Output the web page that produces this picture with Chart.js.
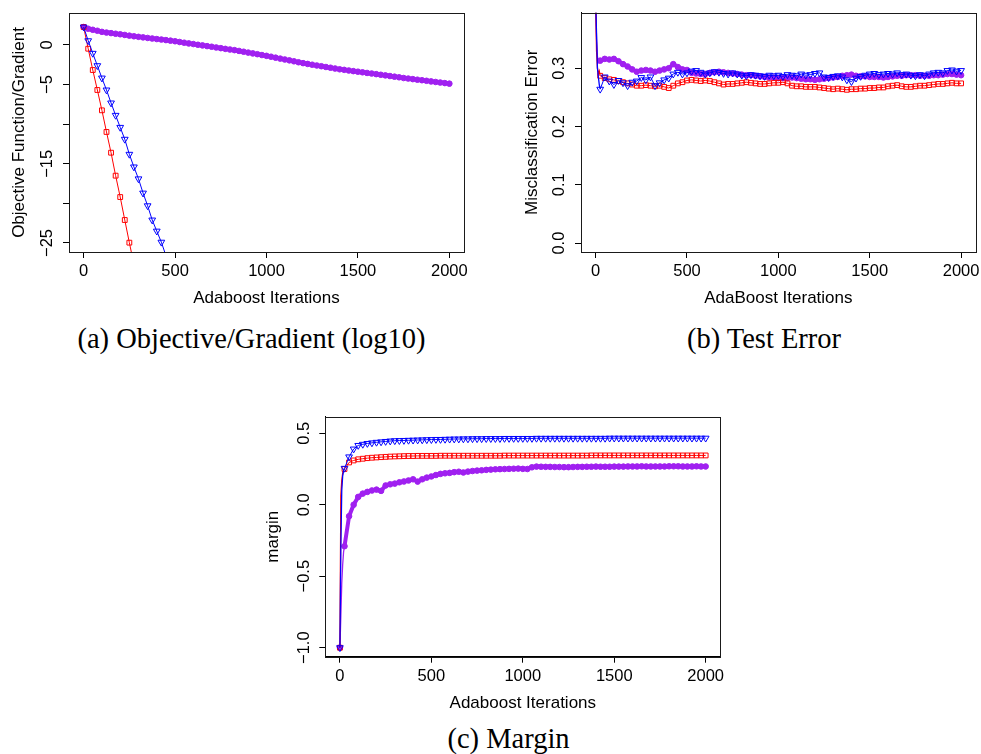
<!DOCTYPE html>
<html><head><meta charset="utf-8">
<script src="https://cdn.jsdelivr.net/npm/chart.js@4.4.1/dist/chart.umd.min.js"></script>
<style>
html,body{margin:0;padding:0;background:#fff;}
#wrap{position:relative;width:981px;height:754px;overflow:hidden;background:#fff;}
canvas{position:absolute;}
.cap{position:absolute;font-family:"Liberation Serif","Times New Roman",serif;font-size:28.5px;line-height:28.5px;white-space:nowrap;transform:translateX(-50%);color:#000;}
</style></head><body>
<div id="wrap">
<canvas id="ca" width="490" height="320" style="left:0;top:0;width:490px;height:320px"></canvas>
<canvas id="cb" width="491" height="320" style="left:490px;top:0;width:491px;height:320px"></canvas>
<canvas id="cc" width="490" height="320" style="left:250px;top:400px;width:490px;height:320px"></canvas>
<div class="cap" style="left:251.5px;top:325px">(a) Objective/Gradient (log10)</div>
<div class="cap" style="left:764px;top:325px">(b) Test Error</div>
<div class="cap" style="left:508.5px;top:724.6px">(c) Margin</div>
</div>
<script>
// ---------- data ----------
const iters = [0,25,50,75,100,125,150,175,200,225,250,275,300,325,350,375,400,425,450,475,500,525,550,575,600,625,650,675,700,725,750,775,800,825,850,875,900,925,950,975,1000,1025,1050,1075,1100,1125,1150,1175,1200,1225,1250,1275,1300,1325,1350,1375,1400,1425,1450,1475,1500,1525,1550,1575,1600,1625,1650,1675,1700,1725,1750,1775,1800,1825,1850,1875,1900,1925,1950,1975,2000];
const itersEarly = [0,5,10,15,20].concat(iters.slice(1));

const xTicks = [0,500,1000,1500,2000];
const xTickLabels = ['0','500','1000','1500','2000'];

// (a) Objective / Gradient (log10)
const itersRedA = [0,25,50,75,100,125,150,175,200,225,250,275];
const objRedA = [2.27,-0.47,-3.16,-5.68,-8.25,-10.98,-13.6,-16.5,-19.2,-22.1,-24.96,-27.7];
const itersBlueA = [0,25,50,75,100,125,150,175,200,225,250,275,300,325,350,375,400,425,450];
const objBlueA = [2.27,0.54,-1.05,-2.61,-4.17,-5.68,-7.32,-8.88,-10.4,-11.9,-13.8,-15.4,-16.9,-18.7,-20.3,-22.1,-23.5,-24.9,-26.6];
const objPurpleA = [2.27,
  2.05,1.92,1.80,1.66, 1.57,1.50,1.42,1.35, 1.27,1.18,1.10,1.03, 0.96,0.89,0.82,0.75,
  0.69,0.62,0.55,0.47, 0.38,0.29,0.20,0.12, 0.03,-0.05,-0.14,-0.22, -0.31,-0.40,-0.49,-0.57,
  -0.65,-0.75,-0.85,-0.96, -1.06,-1.16,-1.27,-1.37, -1.48,-1.60,-1.72,-1.83, -1.94,-2.06,-2.18,-2.29,
  -2.39,-2.49,-2.59,-2.68, -2.78,-2.87,-2.97,-3.07, -3.14,-3.22,-3.30,-3.37, -3.45,-3.53,-3.60,-3.68,
  -3.76,-3.84,-3.92,-4.00, -4.08,-4.17,-4.24,-4.31, -4.38,-4.45,-4.52,-4.60, -4.67,-4.74,-4.81,-4.88];
const yTicksA = [-25,-20,-15,-10,-5,0];
const yLabelsA = ['\u221225','','\u221215','','\u22125','0'];

// (b) Test error
const errBlueB = [0.42,0.36,0.30,0.285,0.272,
  0.264,0.285,0.278,0.272, 0.279,0.275,0.270,0.276, 0.278,0.284,0.280,0.285, 0.270,0.275,0.280,0.283,
  0.290,0.293,0.290,0.292, 0.295,0.296,0.293,0.290, 0.292,0.294,0.293,0.291, 0.290,0.292,0.290,0.288,
  0.287,0.289,0.288,0.287, 0.286,0.288,0.287,0.288, 0.286,0.289,0.288,0.287, 0.290,0.288,0.289,0.291,
  0.292,0.285,0.284,0.286, 0.287,0.285,0.280,0.277, 0.283,0.286,0.288,0.290, 0.291,0.289,0.290,0.291,
  0.290,0.292,0.289,0.290, 0.288,0.287,0.289,0.287, 0.290,0.292,0.293,0.292, 0.296,0.297,0.295,0.296];
const errPurpleB = [0.42,0.35,0.32,0.31,0.312,
  0.313,0.316,0.315,0.316, 0.312,0.307,0.303,0.298, 0.294,0.296,0.297,0.296, 0.294,0.296,0.298,0.300,
  0.307,0.302,0.298,0.297, 0.292,0.291,0.290,0.290, 0.292,0.293,0.294,0.293, 0.292,0.291,0.290,0.289,
  0.288,0.288,0.287,0.286, 0.285,0.284,0.284,0.283, 0.283,0.283,0.284,0.283, 0.282,0.281,0.281,0.280,
  0.281,0.282,0.283,0.284, 0.285,0.287,0.288,0.289, 0.287,0.286,0.286,0.285, 0.285,0.285,0.284,0.285,
  0.286,0.287,0.287,0.288, 0.288,0.288,0.287,0.287, 0.287,0.288,0.288,0.289, 0.290,0.290,0.289,0.288];
const errRedB = [0.42,0.33,0.30,0.29,0.295,
  0.287,0.283,0.281,0.280, 0.278,0.276,0.274,0.272, 0.270,0.270,0.271,0.270, 0.269,0.270,0.268,0.266,
  0.270,0.274,0.276,0.279, 0.280,0.279,0.278,0.279, 0.278,0.276,0.274,0.272, 0.273,0.273,0.274,0.275,
  0.276,0.275,0.274,0.273, 0.273,0.274,0.275,0.275, 0.276,0.274,0.270,0.269, 0.269,0.268,0.268,0.268,
  0.267,0.266,0.265,0.264, 0.265,0.264,0.263,0.264, 0.264,0.265,0.265,0.266, 0.266,0.267,0.267,0.269,
  0.270,0.271,0.269,0.268, 0.268,0.269,0.270,0.270, 0.271,0.272,0.273,0.273, 0.274,0.275,0.274,0.274];
const yTicksB = [0,0.1,0.2,0.3];
const yLabelsB = ['0.0','0.1','0.2','0.3'];

// (c) Margin
const marBlueC = [-1.0,-0.3,0.1,0.2,0.24,
  0.255,0.335,0.390,0.415, 0.423,0.429,0.433,0.437, 0.440,0.443,0.446,0.448, 0.449,0.450,0.451,0.452,
  0.453,0.454,0.455,0.456, 0.457,0.457,0.458,0.459, 0.460,0.460,0.461,0.461, 0.462,0.462,0.462,0.463,
  0.463,0.463,0.463,0.464, 0.464,0.464,0.464,0.464, 0.464,0.464,0.465,0.465, 0.465,0.465,0.465,0.465,
  0.465,0.465,0.465,0.465, 0.465,0.465,0.465,0.465, 0.465,0.465,0.466,0.466, 0.466,0.466,0.466,0.466,
  0.466,0.466,0.466,0.466, 0.466,0.466,0.466,0.466, 0.466,0.466,0.466,0.466, 0.466,0.466,0.466,0.466];
const marRedC = [-1.0,0.063,0.17,0.22,0.24,
  0.250,0.296,0.310,0.318, 0.322,0.326,0.329,0.331, 0.333,0.335,0.337,0.338, 0.339,0.340,0.341,0.341,
  0.342,0.342,0.342,0.342, 0.342,0.343,0.343,0.343, 0.343,0.343,0.343,0.343, 0.343,0.343,0.343,0.343,
  0.343,0.343,0.343,0.344, 0.344,0.344,0.344,0.344, 0.344,0.344,0.344,0.344, 0.344,0.344,0.344,0.344,
  0.344,0.344,0.344,0.344, 0.344,0.344,0.345,0.345, 0.345,0.345,0.345,0.345, 0.345,0.345,0.345,0.345,
  0.345,0.345,0.345,0.345, 0.345,0.345,0.345,0.345, 0.345,0.345,0.345,0.345, 0.345,0.345,0.345,0.345];
const marPurpleC = [-1.0,-0.78,-0.55,-0.42,-0.33,
  -0.29,-0.08,0.000,0.055, 0.078,0.090,0.100,0.106, 0.097,0.135,0.143,0.148, 0.157,0.163,0.170,0.178,
  0.162,0.178,0.190,0.198, 0.208,0.216,0.220,0.223, 0.228,0.231,0.226,0.232, 0.236,0.239,0.241,0.244,
  0.246,0.248,0.249,0.250, 0.251,0.252,0.253,0.251, 0.250,0.262,0.267,0.266, 0.265,0.265,0.264,0.264,
  0.263,0.263,0.264,0.265, 0.265,0.266,0.266,0.267, 0.266,0.266,0.266,0.267, 0.267,0.267,0.268,0.268,
  0.268,0.269,0.268,0.268, 0.268,0.268,0.268,0.269, 0.269,0.269,0.268,0.268, 0.268,0.269,0.268,0.268];
const yTicksC = [-1,-0.5,0,0.5];
const yLabelsC = ['\u22121.0','\u22120.5','0.0','0.5'];

// ---------- styling ----------
Chart.defaults.font.family = "'Liberation Sans', Arial, Helvetica, sans-serif";
Chart.defaults.color = '#000';

const STY = {
  red:    {color:'#FF0000', style:'rect',     rot:0,   r:3.4, fill:'rgba(0,0,0,0)', lw:1},
  blue:   {color:'#0000FF', style:'triangle', rot:180, r:3.9, fill:'rgba(0,0,0,0)', lw:1},
  purple: {color:'#A020F0', style:'circle',   rot:0,   r:2.8, fill:'#A020F0', lw:4}
};
function ds(xs, ys, kind) {
  const s = STY[kind];
  return {
    data: xs.map((x, i) => ({x: x, y: ys[i]})),
    borderColor: s.color, borderWidth: s.lw, tension: 0, fill: false,
    segment: {borderWidth: c => (c.p1.parsed.x <= 25 && c.p1.parsed.x - c.p0.parsed.x < 25) ? 1.3 : s.lw},
    pointStyle: s.style, pointRotation: s.rot,
    pointRadius: c => (c.raw && c.raw.x % 25 === 0) ? s.r : 0,
    pointHoverRadius: 0,
    pointBorderColor: s.color, pointBackgroundColor: s.fill, pointBorderWidth: 1
  };
}
const boxPlugin = {
  id: 'box',
  afterDatasetsDraw(chart) {
    const {ctx, chartArea: a} = chart;
    ctx.save();
    ctx.strokeStyle = '#1a1a1a'; ctx.lineWidth = 1;
    const l = Math.round(a.left) + 0.5, t = Math.round(a.top) + 0.5;
    ctx.strokeRect(l, t, Math.round(a.right) - Math.round(a.left), Math.round(a.bottom) - Math.round(a.top));
    ctx.restore();
  }
};
function gridOpts() {
  return {display: true, drawOnChartArea: false, drawTicks: true, tickLength: 6, color: '#000', lineWidth: 1};
}
function panel(id, p) {
  return new Chart(document.getElementById(id), {
    type: 'line',
    data: {datasets: p.datasets},
    options: {
      responsive: false, animation: false, devicePixelRatio: 1,
      layout: {padding: p.pad},
      plugins: {legend: {display: false}, tooltip: {enabled: false}},
      events: [],
      scales: {
        x: {
          type: 'linear', min: -80, max: 2080,
          afterBuildTicks: s => { s.ticks = xTicks.map(v => ({value: v})); },
          afterFit: s => { s.height = p.xH; s.paddingLeft = 0; s.paddingRight = 0; },
          grid: gridOpts(), border: {display: true, color: '#000', width: 1},
          ticks: {padding: 3.8, font: {size: 16.5}, color: '#000', autoSkip: false, maxRotation: 0,
                  callback: (v, i) => xTickLabels[i]},
          title: {display: true, text: p.xTitle, font: {size: 17}, color: '#000', padding: {top: 0, bottom: p.xTitlePad}}
        },
        y: {
          type: 'linear', min: p.yMin, max: p.yMax,
          afterBuildTicks: s => { s.ticks = p.yTicks.map(v => ({value: v})); },
          afterFit: s => { s.width = p.yW; s.paddingTop = 0; s.paddingBottom = 0; },
          grid: gridOpts(), border: {display: true, color: '#000', width: 1},
          ticks: {padding: p.yTickPad, font: {size: 16.5}, color: '#000', autoSkip: false,
                  minRotation: 90, maxRotation: 90, crossAlign: 'center',
                  callback: (v, i) => p.yLabels[i]},
          title: {display: true, text: p.yTitle, font: {size: 17}, color: '#000', padding: {top: p.yTitlePad, bottom: 0}}
        }
      }
    },
    plugins: [boxPlugin]
  });
}

panel('ca', {
  datasets: [ds(itersBlueA, objBlueA, 'blue'), ds(itersRedA, objRedA, 'red'), ds(iters, objPurpleA, 'purple')],
  pad: {left: 0, top: 13, right: 26, bottom: 0}, xH: 68, yW: 69,
  yMin: -26.14, yMax: 4.04, yTicks: yTicksA, yLabels: yLabelsA,
  xTitle: 'Adaboost Iterations', xTitlePad: 11.8,
  yTitle: 'Objective Function/Gradient', yTitlePad: 9.2, yTickPad: 1.4
});
panel('cb', {
  datasets: [ds(itersEarly, errBlueB, 'blue'), ds(itersEarly, errRedB, 'red'), ds(itersEarly, errPurpleB, 'purple')],
  pad: {left: 0, top: 12.7, right: 5.3, bottom: 0}, xH: 68, yW: 91,
  yMin: -0.0152, yMax: 0.3952, yTicks: yTicksB, yLabels: yLabelsB,
  xTitle: 'AdaBoost Iterations', xTitlePad: 11.8,
  yTitle: 'Misclassification Error', yTitlePad: 32.2, yTickPad: 4.2
});
panel('cc', {
  datasets: [ds(itersEarly, marBlueC, 'blue'), ds(itersEarly, marRedC, 'red'), ds(itersEarly, marPurpleC, 'purple')],
  pad: {left: 0, top: 16.7, right: 19.7, bottom: 0}, xH: 63.3, yW: 75.3,
  yMin: -1.063, yMax: 0.616, yTicks: yTicksC, yLabels: yLabelsC,
  xTitle: 'Adaboost Iterations', xTitlePad: 6.5,
  yTitle: 'margin', yTitlePad: 13.6, yTickPad: -1.3
});
</script>
</body></html>
